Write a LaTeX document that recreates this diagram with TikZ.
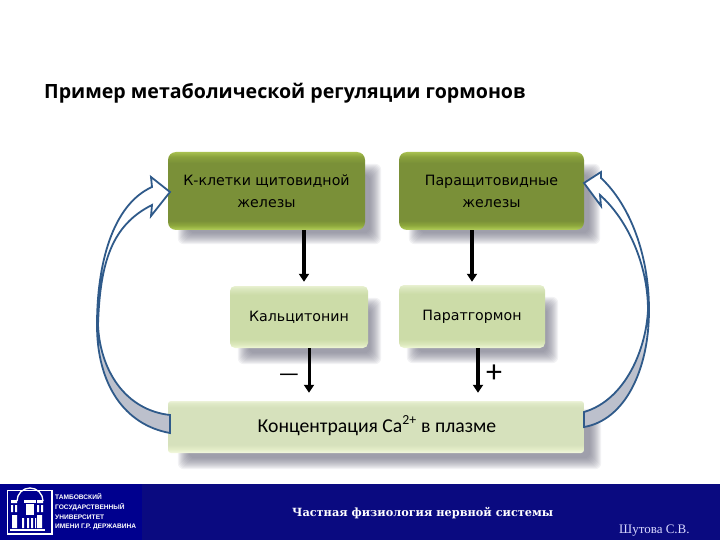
\documentclass[tikz,border=0pt]{standalone}
\usepackage{fontspec}
\setmainfont{Open Sans}
\newfontfamily\boxfont{DejaVu Sans}
\newfontfamily\concfont{Carlito}
\newfontfamily\footfont{DejaVu Serif}
\newfontfamily\authfont{Liberation Serif}
\newfontfamily\logofont{Liberation Sans}
\usetikzlibrary{arrows.meta,backgrounds}
\definecolor{arrowline}{HTML}{2F5A8A}
\definecolor{bandblue}{HTML}{0A0A80}
\definecolor{logoblue}{HTML}{00008E}
\definecolor{shadowgray}{HTML}{6E6E80}
\definecolor{dkA}{HTML}{B4CF5A}\definecolor{dkB}{HTML}{8DA83C}\definecolor{dkC}{HTML}{7A9038}\definecolor{dkD}{HTML}{8AA23C}\definecolor{dkE}{HTML}{A8C050}
\definecolor{ltA}{HTML}{F0F8D8}\definecolor{ltB}{HTML}{DCE8BC}\definecolor{ltC}{HTML}{CCDCA8}\definecolor{ltD}{HTML}{DCE8C0}\definecolor{ltE}{HTML}{E8F0D0}
\definecolor{coA}{HTML}{F4F9E0}\definecolor{coB}{HTML}{E2ECC6}\definecolor{coC}{HTML}{D6E1BC}\definecolor{coD}{HTML}{E0EAC8}\definecolor{coE}{HTML}{ECF2D8}
\definecolor{afA}{HTML}{BCC0CC}
\pgfdeclareverticalshading{darkboxshade}{100bp}{
 color(0bp)=(dkA); color(25bp)=(dkA); color(28bp)=(dkB); color(31bp)=(dkC);
 color(68bp)=(dkC); color(72bp)=(dkD); color(75bp)=(dkE); color(100bp)=(dkE)}
\pgfdeclareverticalshading{lightboxshade}{100bp}{
 color(0bp)=(ltA); color(25bp)=(ltA); color(28bp)=(ltB); color(32bp)=(ltC);
 color(68bp)=(ltC); color(73bp)=(ltD); color(75bp)=(ltE); color(100bp)=(ltE)}
\pgfdeclareverticalshading{concshade}{100bp}{
 color(0bp)=(coA); color(25bp)=(coA); color(29bp)=(coB); color(33bp)=(coC);
 color(69bp)=(coC); color(73bp)=(coD); color(75bp)=(coE); color(100bp)=(coE)}
\pgfdeclareverticalshading{arrowfillshade}{100bp}{
 color(0bp)=(afA); color(38bp)=(afA); color(47bp)=(white); color(100bp)=(white)}
\tikzset{
 x=1pt,y=-1pt,
 darkbox/.style={rectangle,rounded corners=8pt,shading=darkboxshade,inner sep=0pt,align=center,font=\boxfont\fontsize{14.2}{22}\selectfont,text=black},
 lightbox/.style={rectangle,rounded corners=5pt,shading=lightboxshade,inner sep=0pt,align=center,font=\boxfont\fontsize{14.2}{22}\selectfont,text=black},
 concbox/.style={rectangle,rounded corners=3pt,shading=concshade,inner sep=0pt,align=center,font=\concfont\fontsize{19.7}{22}\selectfont,text=black},
 flow/.style={line width=3.4pt,-{Triangle[width=10pt,length=8pt]},black},
 blockarrow/.style={draw=arrowline,line width=1.8pt,line join=miter,shading=arrowfillshade},
 signmark/.style={inner sep=0pt,font=\concfont\fontsize{24}{24}\selectfont,text=black},
 logotext/.style={inner sep=0pt,anchor=west,text=white,font=\logofont\bfseries\fontsize{6.6}{7}\selectfont},
}
% soft shadow behind a named node: inset on the top/left, sticking out right/bottom
\newcommand{\softshadow}[5]{%
 \begin{scope}[on background layer]
  \foreach \g in {0,1,...,11}{
   \fill[shadowgray,opacity=.085,rounded corners=6pt]
    ([xshift=#2pt+\g pt,yshift=-#3pt-\g pt]#1.north west) rectangle ([xshift=#4pt-\g pt,yshift=-#5pt+\g pt]#1.south east);
  }
 \end{scope}}
\begin{document}
\begin{tikzpicture}
\useasboundingbox (0,0) rectangle (720,540);
% title
\node[inner sep=0pt,anchor=west,font=\bfseries\fontsize{19.6}{22}\selectfont,text=black] (title) at (44,93) {Пример метаболической регуляции гормонов};
% boxes
\node[darkbox,minimum width=197pt,minimum height=78pt] (kc) at (266.5,191) {К-клетки щитовидной\\железы};
\node[darkbox,minimum width=185pt,minimum height=78pt] (pt) at (491.5,191) {Паращитовидные\\железы};
\node[lightbox,minimum width=138pt,minimum height=62pt] (cal) at (299,317) {\raisebox{1pt}{Кальцитонин}};
\node[lightbox,minimum width=146pt,minimum height=63pt] (par) at (472,316.5) {Паратгормон};
\node[concbox,minimum width=416pt,minimum height=52pt] (conc) at (376,427) {\raisebox{6pt}{\hspace*{2pt}Концентрация Ca\textsuperscript{2+} в плазме}};
\softshadow{kc}{10}{12}{16}{14}
\softshadow{pt}{10}{12}{16}{14}
\softshadow{cal}{8}{12}{13}{16}
\softshadow{par}{8}{12}{13}{15}
\softshadow{conc}{10}{8}{17}{16}
% connectors
\draw[flow] ([xshift=37.5pt]kc.south) -- ([xshift=5pt,yshift=4pt]cal.north);
\draw[flow] ([xshift=-19.5pt]pt.south) -- ([yshift=3pt]par.north);
\draw[flow,line width=3pt] ([xshift=10pt]cal.south) -- ([xshift=-67pt,yshift=8pt]conc.north);
\draw[flow] ([xshift=6pt]par.south) -- ([xshift=102pt,yshift=8pt]conc.north);
\node[signmark] (minus) at (289,378) {—};
\node[signmark,font=\concfont\fontsize{32}{32}\selectfont] (plus) at (494,374) {+};
% block arrows
\path[blockarrow]
 (170,433) .. controls (125,425) and (97,385) .. (97,325) .. controls (97,265) and (112,205) .. (152,187)
 -- (151,177) -- (170,192) -- (151,216) -- (152,205)
 .. controls (112,225) and (100,262) .. (98,325) .. controls (100,370) and (125,410) .. (170,415) -- cycle;
\path[blockarrow]
 (584,427) .. controls (625,420) and (649,370) .. (649,310) .. controls (649,255) and (630,205) .. (601,178)
 -- (601,172) -- (584,183) -- (601,206) -- (600,195)
 .. controls (628,220) and (648,265) .. (648,310) .. controls (646,350) and (625,400) .. (584,412) -- cycle;
% footer band
\fill[bandblue] (0,484) rectangle (720,540);
\fill[logoblue] (0,484) rectangle (142,540);
\draw[white,line width=1.6pt] (7.5,490.5) rectangle (52,534);
\begin{scope}[white]
 \draw[line width=1.3pt] (17,501) arc[start angle=180,end angle=0,radius=13pt];
 \fill (11,500) rectangle (17,503) (37,500) rectangle (43,503);
 \fill (24,500) rectangle (36,503);
 \fill (26,504) rectangle (34,515);
 \fill (11,505) rectangle (13,512) (15,505) rectangle (17,512) (37,505) rectangle (39,512) (41,505) rectangle (43,512);
 \fill (12,515) rectangle (17,528) (37,515) rectangle (42,528);
 \fill (22,518) rectangle (24,528) (27,518) rectangle (29,528) (31,518) rectangle (33,528) (35,518) rectangle (36,528);
 \fill (10,529) rectangle (45,531);
\end{scope}
\node[logotext] (l1) at (55,497) {ТАМБОВСКИЙ};
\node[logotext] (l2) at (55,507) {ГОСУДАРСТВЕННЫЙ};
\node[logotext] (l3) at (55,517) {УНИВЕРСИТЕТ};
\node[logotext] (l4) at (55,527) {ИМЕНИ Г.Р. ДЕРЖАВИНА};
\node[inner sep=0pt,anchor=west,text=white,font=\footfont\bfseries\fontsize{11.3}{12}\selectfont] (foot) at (292,513) {Частная физиология нервной системы};
\node[inner sep=0pt,anchor=west,text=white!85!blue,font=\authfont\fontsize{13}{14}\selectfont] (auth) at (619,531) {Шутова С.В.};
\end{tikzpicture}
\end{document}
